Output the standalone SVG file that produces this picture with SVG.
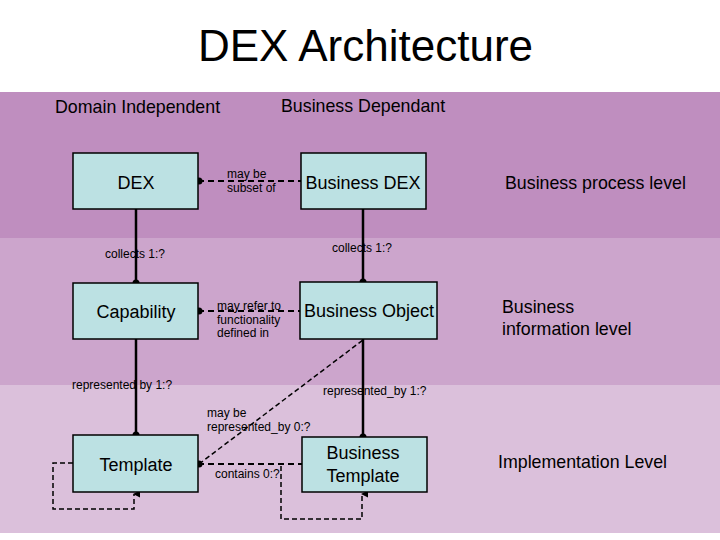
<svg xmlns="http://www.w3.org/2000/svg" width="720" height="540" viewBox="0 0 720 540">
<defs>
<style>
text{font-family:"Liberation Sans",Arial,sans-serif;fill:#000}
.title{font-size:44px}
.hdr{font-size:17.8px}
.lvl{font-size:17.8px}
.box rect{fill:#BCE1E3;stroke:#000;stroke-width:1.5}
.box text{font-size:18px;text-anchor:middle}
.sm{font-size:12px}
.solid{stroke:#000;stroke-width:2.5;fill:none}
.dash{stroke:#000;stroke-width:2.2;stroke-dasharray:6 4;fill:none}
.thin{stroke:#000;stroke-width:1.5;stroke-dasharray:5 3;fill:none}
</style>
<marker id="arr" viewBox="0 0 8 8" refX="4" refY="1" markerWidth="8" markerHeight="8" orient="auto-start-reverse" markerUnits="userSpaceOnUse">
<path d="M4 0 L7.5 7 L0.5 7 Z" fill="#000"/>
</marker>
</defs>
<rect width="720" height="540" fill="#fff"/>
<rect x="0" y="92" width="720" height="146" fill="#BF8EBF"/>
<rect x="0" y="238" width="720" height="147" fill="#CCA5CC"/>
<rect x="0" y="385" width="720" height="148" fill="#DBC0DB"/>
<text class="title" x="365.5" y="61" text-anchor="middle">DEX Architecture</text>
<text class="hdr" x="55" y="113">Domain Independent</text>
<text class="hdr" x="281" y="112">Business Dependant</text>
<text class="lvl" x="505" y="189">Business process level</text>
<text class="lvl" x="502" y="313">Business</text>
<text class="lvl" x="502" y="335">information level</text>
<text class="lvl" x="498" y="468">Implementation Level</text>
<g id="connectors">
<line class="solid" x1="136" y1="209" x2="136" y2="283"/>
<circle cx="136" cy="283" r="3.5"/>
<line class="solid" x1="363" y1="209" x2="363" y2="282"/>
<circle cx="363" cy="282" r="3.5"/>
<line class="solid" x1="136" y1="339" x2="136" y2="435"/>
<circle cx="136" cy="435" r="3.5"/>
<line class="solid" x1="363" y1="339" x2="363" y2="437"/>
<circle cx="363" cy="437" r="3.5"/>
<line class="dash" x1="198" y1="181" x2="301" y2="181"/>
<circle cx="199" cy="181" r="3.5"/>
<line class="dash" x1="198" y1="311" x2="300" y2="311"/>
<circle cx="199" cy="311" r="3.5"/>
<line class="thin" x1="199" y1="464" x2="363" y2="340"/>
<line class="dash" x1="198" y1="464" x2="302" y2="464"/>
<circle cx="199" cy="464" r="3.5"/>
<polyline class="thin" points="73,463 53,463 53,509 134,509 134,494" marker-end="url(#arr)"/>
<polyline class="thin" points="281,466 281,519 362,519 362,494" marker-end="url(#arr)"/>
<text class="sm" x="227" y="178">may be</text>
<text class="sm" x="227" y="192">subset of</text>
<text class="sm" x="105" y="258">collects 1:?</text>
<text class="sm" x="332" y="252">collects 1:?</text>
<text class="sm" x="217" y="310">may refer to</text>
<text class="sm" x="217" y="324">functionality</text>
<text class="sm" x="217" y="337">defined in</text>
<text class="sm" x="72" y="389">represented by 1:?</text>
<text class="sm" x="323" y="395">represented_by 1:?</text>
<text class="sm" x="207" y="417">may be</text>
<text class="sm" x="207" y="431">represented_by 0:?</text>
<text class="sm" x="215" y="478">contains 0:?</text>
</g>
<g id="dex" class="box"><rect x="73" y="153" width="125" height="56"/><text x="136" y="189">DEX</text></g>
<g id="business-dex" class="box"><rect x="301" y="153" width="125" height="56"/><text x="363" y="189">Business DEX</text></g>
<g id="capability" class="box"><rect x="73" y="283" width="125" height="56"/><text x="136" y="318">Capability</text></g>
<g id="business-object" class="box"><rect x="300" y="282" width="137" height="57"/><text x="369" y="317">Business Object</text></g>
<g id="template" class="box"><rect x="73" y="435" width="125" height="57"/><text x="136" y="471">Template</text></g>
<g id="business-template" class="box"><rect x="302" y="437" width="125" height="55"/><text x="363" y="459">Business</text><text x="363" y="482">Template</text></g>
</svg>
